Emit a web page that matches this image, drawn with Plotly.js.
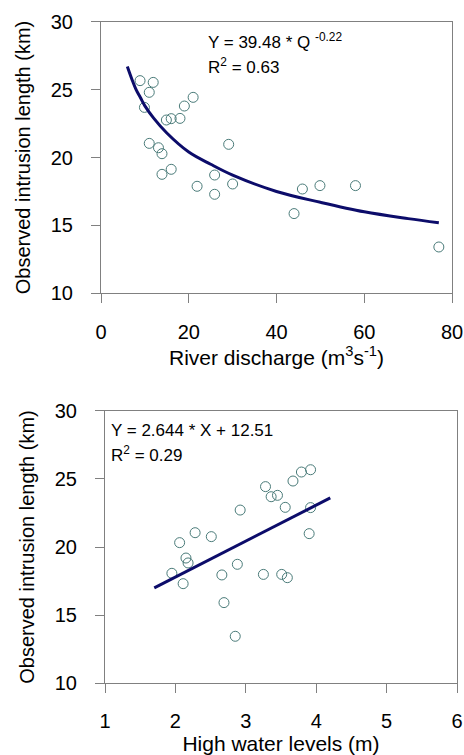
<!DOCTYPE html>
<html>
<head>
<meta charset="utf-8">
<script src="https://cdn.plot.ly/plotly-3.0.1.min.js"></script>
<style>html,body{margin:0;padding:0;background:#fff;}#chart{width:464px;height:755px;}</style>
</head>
<body>
<div id="chart"></div>
<script>
// Top panel: river discharge vs intrusion length
const dischargeQ = [8.9, 11.9, 11.0, 9.9, 21.0, 19.0, 14.9, 16.0, 18.0, 11.0, 13.1, 13.9, 29.1, 13.9, 16.0, 25.9, 21.9, 30.0, 25.9, 45.9, 49.9, 58.0, 44.0, 77.0];
const lengthTop = [25.66, 25.53, 24.8, 23.69, 24.43, 23.79, 22.76, 22.86, 22.88, 21.04, 20.72, 20.28, 20.97, 18.76, 19.13, 18.71, 17.88, 18.05, 17.29, 17.68, 17.93, 17.93, 15.87, 13.41];
// power-law fit curve
const fitQ = [6, 7, 8, 9, 10, 12, 15, 20, 25, 30, 40, 50, 60, 70, 77];
const fitTop = [26.7, 25.8, 25.0, 24.4, 23.8, 22.9, 21.8, 20.4, 19.5, 18.7, 17.5, 16.7, 16.0, 15.5, 15.2];

// Bottom panel: high water level vs intrusion length
const waterLevel = [3.92, 3.79, 3.67, 3.28, 3.36, 3.45, 3.56, 3.92, 2.92, 2.28, 2.51, 2.06, 3.90, 2.15, 2.18, 2.88, 1.95, 2.66, 3.25, 3.51, 3.59, 2.11, 2.69, 2.85];
const lengthBottom = [25.67, 25.5, 24.84, 24.43, 23.69, 23.79, 22.91, 22.89, 22.71, 21.05, 20.76, 20.32, 20.98, 19.19, 18.83, 18.73, 18.07, 17.95, 17.99, 17.99, 17.75, 17.31, 15.92, 13.45];
const fitLevel = [1.7, 4.2];
const fitBottom = [17.0, 23.6];

const xTicksTop = [0, 20, 40, 60, 80];
const yTicks = [10, 15, 20, 25, 30];
const xTicksBottom = [1, 2, 3, 4, 5, 6];

const markerColor = '#4a7b79';
const lineColor = '#0c0c6a';
const axisColor = '#808080';
const FONT = 'Liberation Sans, Arial, sans-serif';

const traces = [
  {x: dischargeQ, y: lengthTop, mode: 'markers', type: 'scatter', xaxis: 'x', yaxis: 'y',
   marker: {symbol: 'circle-open', size: 10, color: markerColor, line: {width: 1, color: markerColor}}, hoverinfo: 'skip'},
  {x: fitQ, y: fitTop, mode: 'lines', type: 'scatter', xaxis: 'x', yaxis: 'y',
   line: {color: lineColor, width: 3, shape: 'spline'}, hoverinfo: 'skip'},
  {x: waterLevel, y: lengthBottom, mode: 'markers', type: 'scatter', xaxis: 'x2', yaxis: 'y2',
   marker: {symbol: 'circle-open', size: 10, color: markerColor, line: {width: 1, color: markerColor}}, hoverinfo: 'skip'},
  {x: fitLevel, y: fitBottom, mode: 'lines', type: 'scatter', xaxis: 'x2', yaxis: 'y2',
   line: {color: lineColor, width: 3}, hoverinfo: 'skip'}
];

const axisBase = {
  showgrid: false, zeroline: false, showline: true, linecolor: axisColor, linewidth: 1,
  mirror: true, ticks: 'outside', ticklen: 9, tickcolor: axisColor, tickwidth: 1,
  tickfont: {family: FONT, size: 20, color: '#000'}, automargin: false
};

const layout = {
  width: 464, height: 755,
  margin: {l: 0, r: 0, t: 0, b: 0},
  paper_bgcolor: '#fff', plot_bgcolor: '#fff',
  showlegend: false,
  font: {family: FONT, color: '#000'},
  xaxis: Object.assign({}, axisBase, {
    domain: [101/464, 452/464], range: [0, 80], tickvals: xTicksTop, ticklabelstandoff: 12,
    anchor: 'y',
    title: {text: 'River discharge (m<sup>3</sup>s<sup>-1</sup>)', font: {family: FONT, size: 21, color: '#000'}, standoff: 4}
  }),
  yaxis: Object.assign({}, axisBase, {
    domain: [1 - 293.3/755, 1 - 21.7/755], range: [10, 30], tickvals: yTicks, ticklabelstandoff: 14,
    anchor: 'x',
    title: {text: 'Observed intrusion length (km)', font: {family: FONT, size: 20, color: '#000'}, standoff: 14}
  }),
  xaxis2: Object.assign({}, axisBase, {
    domain: [105/464, 457/464], range: [1, 6], tickvals: xTicksBottom, ticklabelstandoff: 11,
    anchor: 'y2',
    title: {text: 'High water levels (m)', font: {family: FONT, size: 21, color: '#000'}, standoff: 0}
  }),
  yaxis2: Object.assign({}, axisBase, {
    domain: [1 - 683.3/755, 1 - 410.7/755], range: [10, 30], tickvals: yTicks, ticklabelstandoff: 14,
    anchor: 'x2',
    title: {text: 'Observed intrusion length (km)', font: {family: FONT, size: 20, color: '#000'}, standoff: 14}
  }),
  annotations: [
    {xref: 'x', yref: 'y', x: 24, y: 28.55, xanchor: 'left', yanchor: 'middle', showarrow: false,
     text: 'Y = 39.48 * Q <sup>-0.22</sup>', font: {family: FONT, size: 17, color: '#000'}},
    {xref: 'x', yref: 'y', x: 24, y: 26.75, xanchor: 'left', yanchor: 'middle', showarrow: false,
     text: 'R<sup>2</sup> = 0.63', font: {family: FONT, size: 17, color: '#000'}},
    {xref: 'x2', yref: 'y2', x: 1.05, y: 28.55, xanchor: 'left', yanchor: 'middle', showarrow: false,
     text: 'Y = 2.644 * X + 12.51', font: {family: FONT, size: 17, color: '#000'}},
    {xref: 'x2', yref: 'y2', x: 1.05, y: 26.8, xanchor: 'left', yanchor: 'middle', showarrow: false,
     text: 'R<sup>2</sup> = 0.29', font: {family: FONT, size: 17, color: '#000'}}
  ]
};

Plotly.newPlot('chart', traces, layout, {displayModeBar: false, staticPlot: true});
</script>
</body>
</html>
